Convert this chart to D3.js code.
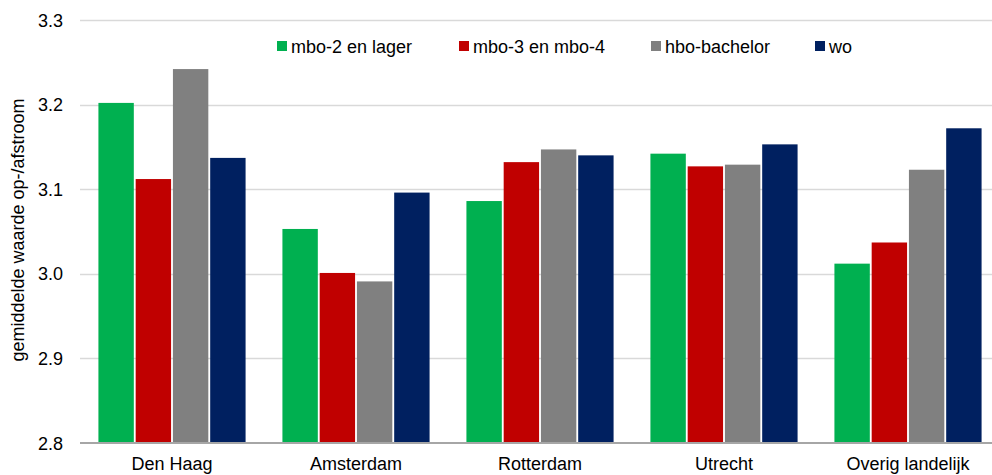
<!DOCTYPE html>
<html>
<head>
<meta charset="utf-8">
<script src="https://cdn.jsdelivr.net/npm/d3@7"></script>
<style>
  body { margin: 0; background: #fff; }
  text { font-family: "Liberation Sans", Arial, sans-serif; fill: #000; }
</style>
</head>
<body>
<div id="chart"></div>
<script>
// Gegevens
const regios = ['Den Haag', 'Amsterdam', 'Rotterdam', 'Utrecht', 'Overig landelijk'];
const niveaus = ['mbo-2 en lager', 'mbo-3 en mbo-4', 'hbo-bachelor', 'wo'];
const kleuren = ['#00b050', '#c00000', '#808080', '#002060'];
const mbo2 = [3.202, 3.053, 3.086, 3.142, 3.012];
const mbo3 = [3.112, 3.001, 3.132, 3.127, 3.037];
const hbo = [3.242, 2.991, 3.147, 3.129, 3.123];
const wo = [3.137, 3.096, 3.140, 3.153, 3.172];
const yTicks = [2.8, 2.9, 3.0, 3.1, 3.2, 3.3];

const reeksen = [mbo2, mbo3, hbo, wo];

const width = 992, height = 475;
const margin = { top: 20, right: -8, bottom: 32, left: 80 };

const svg = d3.select('#chart').append('svg')
  .attr('width', width)
  .attr('height', height);

const x0 = d3.scaleBand()
  .domain(regios)
  .range([margin.left, width - margin.right])
  .paddingInner(0.18)
  .paddingOuter(0.09);

const x1 = d3.scaleBand()
  .domain(niveaus)
  .range([0, x0.bandwidth()])
  .padding(0.05);

const y = d3.scaleLinear()
  .domain([2.8, 3.3])
  .range([height - margin.bottom, margin.top]);

// rasterlijnen
svg.append('g')
  .selectAll('line')
  .data(yTicks.slice(1))
  .enter()
  .append('line')
  .attr('x1', margin.left)
  .attr('x2', width)
  .attr('y1', d => Math.round(y(d)) + 0.5)
  .attr('y2', d => Math.round(y(d)) + 0.5)
  .attr('stroke', '#d9d9d9')
  .attr('stroke-width', 1.5);

// staven
const groep = svg.append('g')
  .selectAll('g')
  .data(regios)
  .enter()
  .append('g')
  .attr('transform', d => `translate(${x0(d)},0)`);

groep.selectAll('rect')
  .data((d, i) => niveaus.map((n, j) => ({ niveau: n, waarde: reeksen[j][i], kleur: kleuren[j] })))
  .enter()
  .append('rect')
  .attr('x', d => x1(d.niveau))
  .attr('y', d => y(d.waarde))
  .attr('width', x1.bandwidth())
  .attr('height', d => y(2.8) - y(d.waarde))
  .attr('fill', d => d.kleur);

// x-as
svg.append('line')
  .attr('x1', margin.left)
  .attr('x2', width)
  .attr('y1', y(2.8))
  .attr('y2', y(2.8))
  .attr('stroke', '#a6a6a6')
  .attr('stroke-width', 2);

svg.append('g')
  .selectAll('text')
  .data(regios)
  .enter()
  .append('text')
  .attr('x', d => x0(d) + x0.bandwidth() / 2)
  .attr('y', height - 5)
  .attr('text-anchor', 'middle')
  .style('font-size', '18px')
  .text(d => d);

// y-as labels
svg.append('g')
  .selectAll('text')
  .data(yTicks)
  .enter()
  .append('text')
  .attr('x', 63)
  .attr('y', d => y(d) + 6.5)
  .attr('text-anchor', 'end')
  .style('font-size', '18px')
  .text(d => d3.format('.1f')(d));

svg.append('text')
  .attr('transform', `translate(24,230) rotate(-90)`)
  .attr('text-anchor', 'middle')
  .style('font-size', '18px')
  .text('gemiddelde waarde op-/afstroom');

// legenda
const legX = [277, 459, 651, 815];
const leg = svg.append('g')
  .selectAll('g')
  .data(niveaus)
  .enter()
  .append('g')
  .attr('transform', (d, i) => `translate(${legX[i]},41)`);

leg.append('rect')
  .attr('width', 10)
  .attr('height', 10)
  .attr('fill', (d, i) => kleuren[i]);

leg.append('text')
  .attr('x', 14)
  .attr('y', 12)
  .style('font-size', '18px')
  .text(d => d);
</script>
</body>
</html>
